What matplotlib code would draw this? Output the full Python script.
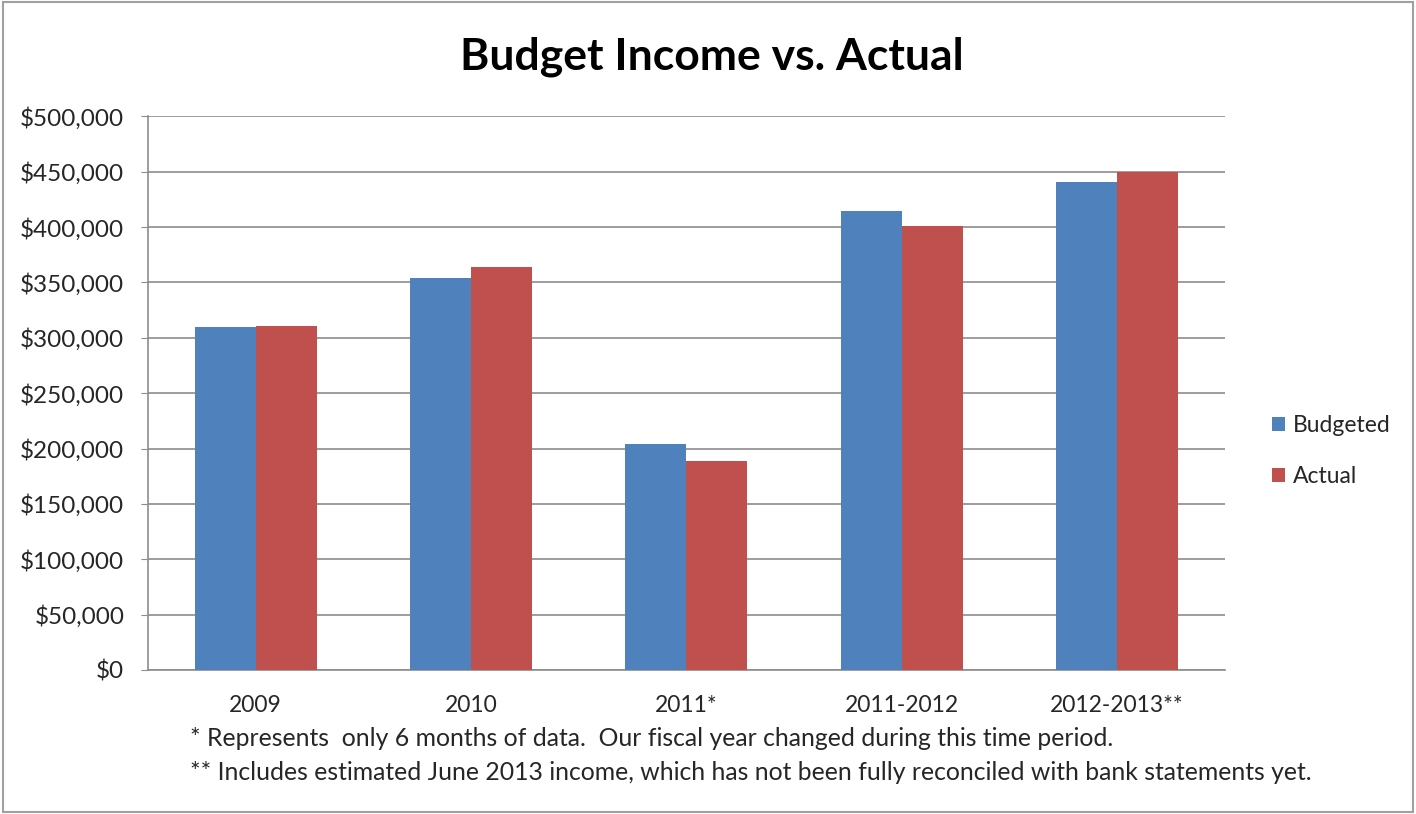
import matplotlib.pyplot as plt
import matplotlib.patches as mpatches
from matplotlib.ticker import FuncFormatter, MultipleLocator
import numpy as np

plt.rcParams['font.family'] = ['Lato', 'DejaVu Sans']

# Data
categories = ['2009', '2010', '2011*', '2011-2012', '2012-2013**']
budgeted = [309500, 354000, 204000, 414500, 441000]
actual = [311000, 364000, 188500, 401000, 450000]

blue = '#4F81BD'
red = '#C0504D'
text_color = '#262626'
grid_color = '#8C8C8C'

fig = plt.figure(figsize=(14.16, 8.14), dpi=100)
ax = fig.add_axes([0.1045, 0.177, 0.7605, 0.680])

x = np.arange(len(categories))
w = 0.283
ax.bar(x - w / 2, budgeted, width=w, color=blue, label='Budgeted', zorder=3)
ax.bar(x + w / 2, actual, width=w, color=red, label='Actual', zorder=3)

ax.set_xlim(-0.5, len(categories) - 0.5)
ax.set_ylim(0, 500000)
ax.yaxis.set_major_locator(MultipleLocator(50000))
ax.yaxis.set_major_formatter(FuncFormatter(lambda v, p: f'${v:,.0f}'))
ax.grid(axis='y', color=grid_color, linewidth=1.2, zorder=0)

ax.set_xticks(x)
ax.set_xticklabels(categories)
ax.tick_params(axis='x', length=0, pad=18, labelsize=16.5, labelcolor=text_color)
ax.tick_params(axis='y', length=5, color=grid_color, pad=12, labelsize=17.5,
               labelcolor=text_color)

for side in ['top', 'right']:
    ax.spines[side].set_visible(False)
for side in ['left', 'bottom']:
    ax.spines[side].set_color(grid_color)
    ax.spines[side].set_linewidth(1.2)

fig.text(0.503, 0.93, 'Budget Income vs. Actual', ha='center', va='center',
         fontsize=32, fontweight='bold', color='black')

ax.legend(loc='center left', bbox_to_anchor=(1.025, 0.395), frameon=False,
          fontsize=16.5, handlelength=0.55, handleheight=0.55, handletextpad=0.35,
          labelspacing=1.3, labelcolor=text_color)

fig.text(0.134, 0.093,
         '* Represents  only 6 months of data.  Our fiscal year changed during this time period.',
         ha='left', va='center', fontsize=17.8, color=text_color)
fig.text(0.134, 0.051,
         '** Includes estimated June 2013 income, which has not been fully reconciled with bank statements yet.',
         ha='left', va='center', fontsize=17.8, color=text_color)

fig.patches.append(mpatches.Rectangle((0.002, 0.003), 0.996, 0.994,
                                      transform=fig.transFigure, fill=False,
                                      edgecolor='#A0A0A0', linewidth=1.5))

fig.savefig('out.png', dpi=100, facecolor='white')
